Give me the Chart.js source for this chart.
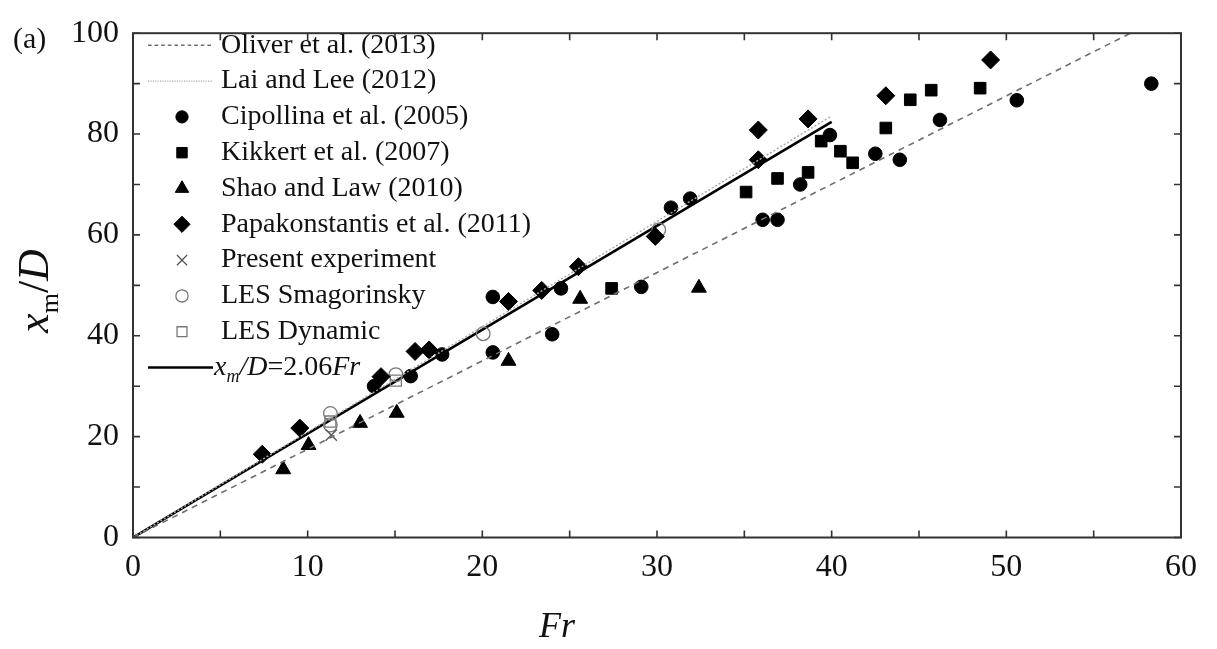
<!DOCTYPE html>
<html>
<head>
<meta charset="utf-8">
<script src="https://cdn.jsdelivr.net/npm/chart.js@4.4.0/dist/chart.umd.min.js"></script>
<style>
  html, body { margin: 0; padding: 0; background: #fff; }
  #wrap { position: relative; width: 1217px; height: 649px; }
</style>
</head>
<body>
<div id="wrap"><canvas id="jetChart"></canvas></div>
<script>
// axis ticks
const frTicks = [0, 10, 20, 30, 40, 50, 60];
const frMinor = [5, 15, 25, 35, 45, 55];
const xmTicks = [0, 20, 40, 60, 80, 100];
const xmMinor = [10, 30, 50, 70, 90];

// reference lines (Fr, xm/D)
const oliverLine = [[0, 0], [57.1, 100]];
const laiLeeLine = [[0, 0], [40, 83.6]];
const fitLine = [[0, 0], [40, 82.4]];

// measurements (Fr, xm/D)
const cipollina = [[13.8, 30.0], [15.9, 32.0], [17.7, 36.3], [20.6, 36.7], [20.6, 47.7], [24.0, 40.3],
  [24.5, 49.4], [29.1, 49.7], [30.8, 65.4], [31.9, 67.2], [36.05, 63.0], [36.9, 63.0], [38.2, 70.0],
  [39.9, 79.8], [42.5, 76.1], [43.9, 74.9], [46.2, 82.8], [50.6, 86.7], [58.3, 90.0]];
const kikkert = [[27.4, 49.4], [35.1, 68.5], [36.9, 71.2], [38.65, 72.4], [39.4, 78.6], [40.5, 76.6],
  [41.2, 74.3], [43.1, 81.2], [44.5, 86.8], [45.7, 88.7], [48.5, 89.1]];
const shaoLaw = [[8.6, 13.5], [10.05, 18.3], [13.0, 22.7], [15.1, 24.7], [21.5, 35.0], [25.6, 47.3], [32.4, 49.5]];
const papakonstantis = [[7.4, 16.5], [9.55, 21.7], [14.2, 31.9], [16.15, 36.9], [16.95, 37.2], [21.5, 46.8],
  [23.4, 49.0], [25.5, 53.7], [29.9, 59.7], [35.8, 74.9], [35.8, 80.8], [38.65, 83.0], [43.1, 87.6], [49.1, 94.7]];
const presentExp = [[11.35, 20.3]];
const lesSmagorinsky = [[11.3, 24.6], [11.3, 22.3], [15.05, 32.3], [20.05, 40.4], [30.1, 61.0]];
const lesDynamic = [[11.3, 23.0], [15.05, 31.1]];

const toXY = arr => arr.map(p => ({ x: p[0], y: p[1] }));
const serif = 'Liberation Serif, Times New Roman, serif';
const ink = '#111';

function lineSet(label, pts, color, width, dash) {
  return {
    label: label, data: toXY(pts), showLine: true, borderColor: color, borderWidth: width,
    borderDash: dash, pointRadius: 0, fill: false
  };
}

function pointSet(label, pts, style, radius, fillColor, lineColor, width) {
  return {
    label: label, data: toXY(pts), pointStyle: style, pointRadius: radius,
    backgroundColor: fillColor, borderColor: lineColor, borderWidth: width
  };
}

const datasets = [
  lineSet('Oliver et al. (2013)', oliverLine, '#6e6e6e', 1.6, [6, 5]),
  lineSet('Lai and Lee (2012)', laiLeeLine, '#a8a8a8', 1.4, [2, 2]),
  pointSet('Cipollina et al. (2005)', cipollina, 'circle', 6.8, '#000', '#000', 1),
  pointSet('Kikkert et al. (2007)', kikkert, 'rect', 8.2, '#000', '#000', 1),
  pointSet('Shao and Law (2010)', shaoLaw, 'triangle', 8.6, '#000', '#000', 1),
  pointSet('Papakonstantis et al. (2011)', papakonstantis, 'rectRot', 9, '#000', '#000', 1),
  pointSet('Present experiment', presentExp, 'crossRot', 8, '#555', '#555', 1.3),
  pointSet('LES Smagorinsky', lesSmagorinsky, 'circle', 6.8, 'rgba(255,255,255,0)', '#777', 1.3),
  pointSet('LES Dynamic', lesDynamic, 'rect', 7.8, 'rgba(255,255,255,0)', '#777', 1.3),
  lineSet('fit', fitLine, '#000', 2.6, [])
];

// box, inward ticks on all four sides, titles
const frame = {
  id: 'frame',
  afterDraw(chart) {
    const ctx = chart.ctx;
    const a = chart.chartArea;
    const sx = chart.scales.x, sy = chart.scales.y;
    ctx.save();
    ctx.strokeStyle = '#333';
    ctx.lineWidth = 2;
    ctx.strokeRect(a.left, a.top, a.right - a.left, a.bottom - a.top);
    ctx.lineWidth = 1.6;
    ctx.beginPath();
    frTicks.concat(frMinor).forEach(v => {
      const px = sx.getPixelForValue(v);
      ctx.moveTo(px, a.bottom); ctx.lineTo(px, a.bottom - 7);
      ctx.moveTo(px, a.top); ctx.lineTo(px, a.top + 7);
    });
    xmTicks.concat(xmMinor).forEach(v => {
      const py = sy.getPixelForValue(v);
      ctx.moveTo(a.left, py); ctx.lineTo(a.left + 7, py);
      ctx.moveTo(a.right, py); ctx.lineTo(a.right - 7, py);
    });
    ctx.stroke();

    ctx.fillStyle = ink;
    // panel tag
    ctx.font = '30px ' + serif;
    ctx.textBaseline = 'middle';
    ctx.textAlign = 'left';
    ctx.fillText('(a)', 13, 40);

    // x title
    ctx.font = 'italic 36px ' + serif;
    ctx.textAlign = 'center';
    ctx.fillText('Fr', 557, 628);

    // y title, rotated, with subscript
    ctx.translate(48, 291);
    ctx.rotate(-Math.PI / 2);
    ctx.textBaseline = 'alphabetic';
    ctx.textAlign = 'left';
    const parts = [
      { t: 'x', f: 'italic 44px ', dy: 0 },
      { t: 'm', f: '26px ', dy: 10 },
      { t: '/', f: '44px ', dy: 0 },
      { t: 'D', f: 'italic 44px ', dy: 0 }
    ];
    let total = 0;
    parts.forEach(p => { ctx.font = p.f + serif; p.w = ctx.measureText(p.t).width; total += p.w; });
    let cx = -total / 2;
    parts.forEach(p => { ctx.font = p.f + serif; ctx.fillText(p.t, cx, p.dy); cx += p.w; });
    ctx.restore();
  }
};

// legend inside the plot, one entry per row
const legendBox = {
  id: 'legendBox',
  afterDraw(chart) {
    const ctx = chart.ctx;
    const x0 = 148, x1 = 213, mx = 182, tx = 221;
    const rowH = 35.8;
    let y = 45.3;
    ctx.save();
    chart.data.datasets.forEach(ds => {
      ctx.setLineDash([]);
      if (ds.showLine) {
        ctx.strokeStyle = ds.borderColor;
        ctx.lineWidth = ds.borderWidth;
        ctx.setLineDash(ds.borderDash.length ? [ds.borderDash[0] * 0.6, ds.borderDash[1] * 0.6] : []);
        ctx.beginPath();
        ctx.moveTo(x0, y); ctx.lineTo(x1, y);
        ctx.stroke();
        ctx.setLineDash([]);
      } else {
        ctx.fillStyle = ds.backgroundColor;
        ctx.strokeStyle = ds.borderColor;
        ctx.lineWidth = ds.borderWidth;
        Chart.helpers.drawPoint(ctx, {
          pointStyle: ds.pointStyle, radius: ds.pointRadius * 0.9, rotation: 0, borderWidth: ds.borderWidth
        }, mx, y);
      }
      ctx.fillStyle = ink;
      ctx.textBaseline = 'middle';
      ctx.textAlign = 'left';
      if (ds.label === 'fit') {
        const parts = [
          { t: 'x', f: 'italic 28px ', dy: 0 },
          { t: 'm', f: 'italic 18px ', dy: 10 },
          { t: '/D', f: 'italic 28px ', dy: 0 },
          { t: '=2.06', f: '28px ', dy: 0 },
          { t: 'Fr', f: 'italic 28px ', dy: 0 }
        ];
        let cx = 214;
        parts.forEach(p => {
          ctx.font = p.f + serif;
          ctx.fillText(p.t, cx, y + p.dy);
          cx += ctx.measureText(p.t).width;
        });
      } else {
        ctx.font = '28px ' + serif;
        ctx.fillText(ds.label, tx, y);
      }
      y += rowH;
    });
    ctx.restore();
  }
};

new Chart(document.getElementById('jetChart'), {
  type: 'scatter',
  data: { datasets: datasets },
  options: {
    responsive: true,
    maintainAspectRatio: false,
    animation: false,
    layout: { padding: { top: 23, right: 36, left: 0, bottom: 0 } },
    plugins: {
      legend: { display: false },
      tooltip: { enabled: false }
    },
    scales: {
      x: {
        type: 'linear',
        min: 0,
        max: 60,
        afterBuildTicks: s => { s.ticks = frTicks.map(v => ({ value: v })); },
        afterFit: s => { s.height = 111.5; },
        grid: { display: false, drawTicks: false },
        border: { display: false },
        ticks: {
          color: ink,
          padding: 11,
          maxRotation: 0,
          font: { family: serif, size: 32 }
        }
      },
      y: {
        type: 'linear',
        min: 0,
        max: 100,
        afterBuildTicks: s => { s.ticks = xmTicks.map(v => ({ value: v })); },
        afterFit: s => { s.width = 133; },
        grid: { display: false, drawTicks: false },
        border: { display: false },
        ticks: {
          color: ink,
          padding: 14,
          font: { family: serif, size: 32 }
        }
      }
    }
  },
  plugins: [frame, legendBox]
});
</script>
</body>
</html>
